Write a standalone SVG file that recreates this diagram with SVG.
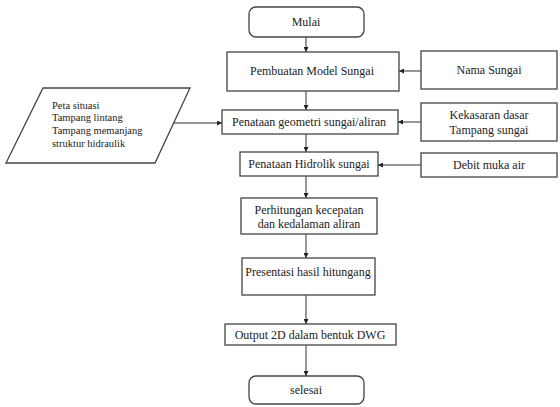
<svg xmlns="http://www.w3.org/2000/svg" width="560" height="407" viewBox="0 0 560 407">
<style>
.b{fill:#fff;stroke:#444;stroke-width:1.3}
.t{font-family:"Liberation Serif","Times New Roman",serif;font-size:12px;fill:#222;text-anchor:middle;dominant-baseline:central}
.l{font-family:"Liberation Serif","Times New Roman",serif;font-size:10.5px;fill:#222}
.c{stroke:#333;stroke-width:1;fill:none;marker-end:url(#a)}
</style>
<defs>
<marker id="a" viewBox="0 0 6 6" refX="6" refY="3" markerWidth="5" markerHeight="5" orient="auto" markerUnits="userSpaceOnUse">
<path d="M0,0L6,3L0,6z" fill="#222"/>
</marker>
</defs>
<rect width="560" height="407" fill="#fff"/>
<g id="connectors">
<line class="c" x1="306" y1="37" x2="306" y2="52"/>
<line class="c" x1="306" y1="91" x2="306" y2="110"/>
<line class="c" x1="306" y1="134" x2="306" y2="152"/>
<line class="c" x1="306" y1="176" x2="306" y2="198"/>
<line class="c" x1="306" y1="234" x2="306" y2="258"/>
<line class="c" x1="306" y1="295" x2="306" y2="324"/>
<line class="c" x1="306" y1="345" x2="306" y2="376"/>
<line class="c" x1="421" y1="71" x2="399" y2="71"/>
<line class="c" x1="421" y1="122" x2="398" y2="122"/>
<line class="c" x1="421" y1="165" x2="378" y2="165"/>
<line class="c" x1="174" y1="123" x2="222" y2="123"/>
</g>
<g id="mulai"><rect class="b" x="249" y="7" width="115" height="30" rx="7"/><text class="t" x="306" y="22">Mulai</text></g>
<g id="pembuatan"><rect class="b" x="227" y="52" width="172" height="39"/><text class="t" x="312" y="71">Pembuatan Model Sungai</text></g>
<g id="geometri"><rect class="b" x="222" y="110" width="176" height="24"/><text class="t" x="309" y="122">Penataan geometri sungai/aliran</text></g>
<g id="hidrolik"><rect class="b" x="240" y="152" width="138" height="24"/><text class="t" x="309" y="164">Penataan Hidrolik sungai</text></g>
<g id="perhitungan"><rect class="b" x="241" y="198" width="136" height="36"/><text class="t" x="309" y="210">Perhitungan kecepatan</text><text class="t" x="309" y="224">dan kedalaman aliran</text></g>
<g id="presentasi"><rect class="b" x="242" y="258" width="133" height="37"/><text class="t" x="308" y="272">Presentasi hasil hitungang</text></g>
<g id="output"><rect class="b" x="225" y="324" width="171" height="21"/><text class="t" x="310" y="334.5">Output 2D dalam bentuk DWG</text></g>
<g id="selesai"><rect class="b" x="249" y="376" width="115" height="28" rx="7"/><text class="t" x="306" y="390">selesai</text></g>
<g id="nama"><rect class="b" x="421" y="51" width="136" height="38"/><text class="t" x="489" y="70">Nama Sungai</text></g>
<g id="kekasaran"><rect class="b" x="421" y="103" width="136" height="38"/><text class="t" x="489" y="115">Kekasaran dasar</text><text class="t" x="489" y="130">Tampang sungai</text></g>
<g id="debit"><rect class="b" x="421" y="153" width="136" height="24"/><text class="t" x="489" y="165">Debit muka air</text></g>
<g id="peta"><polygon class="b" points="43,88 190,88 155,163 6,163"/>
<text class="l" x="52" y="109">Peta situasi</text>
<text class="l" x="52" y="121">Tampang lintang</text>
<text class="l" x="52" y="134">Tampang memanjang</text>
<text class="l" x="52" y="147">struktur hidraulik</text></g>
</svg>
